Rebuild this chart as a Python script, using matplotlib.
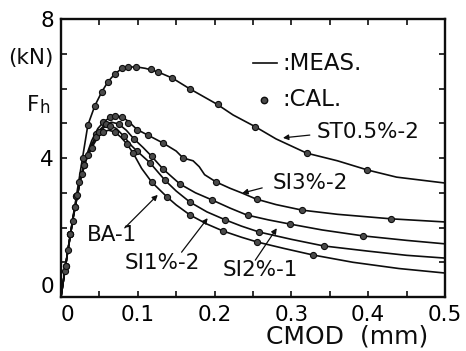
import matplotlib
matplotlib.use("Agg")
import matplotlib.pyplot as plt
from matplotlib.ticker import MultipleLocator

matplotlib.rcParams['font.family'] = 'DejaVu Sans'

# ---- measured curves (lines) ----
st_x = [0, 0.010, 0.020, 0.028, 0.035, 0.044, 0.053, 0.061, 0.070, 0.079, 0.088, 0.099,
        0.110, 0.126, 0.145, 0.167, 0.203, 0.224, 0.253, 0.28, 0.32, 0.36, 0.40, 0.437, 0.5]
st_y = [0, 1.5, 2.9, 4.0, 4.95, 5.5, 5.9, 6.19, 6.42, 6.57, 6.62, 6.62,
        6.58, 6.48, 6.30, 6.0, 5.55, 5.24, 4.9, 4.55, 4.14, 3.92, 3.65, 3.45, 3.28]

si3_x = [0, 0.008, 0.016, 0.025, 0.032, 0.040, 0.048, 0.056, 0.064, 0.071, 0.080, 0.088,
         0.099, 0.113, 0.133, 0.150, 0.159, 0.172, 0.180, 0.187, 0.202, 0.220, 0.236, 0.254,
         0.28, 0.314, 0.36, 0.43, 0.5]
si3_y = [0, 1.2, 2.35, 3.4, 4.0, 4.5, 4.85, 5.05, 5.17, 5.21, 5.18, 5.05,
         4.82, 4.66, 4.43, 4.2, 4.0, 3.92, 3.75, 3.52, 3.31, 3.13, 2.99, 2.82,
         2.66, 2.50, 2.38, 2.25, 2.16]

si2_x = [0, 0.008, 0.016, 0.025, 0.032, 0.040, 0.050, 0.058, 0.066, 0.075, 0.085, 0.095,
         0.107, 0.118, 0.133, 0.155, 0.175, 0.197, 0.22, 0.242, 0.27, 0.298, 0.34, 0.393,
         0.45, 0.5]
si2_y = [0, 1.2, 2.3, 3.35, 3.95, 4.4, 4.8, 4.98, 5.03, 4.98, 4.8, 4.55,
         4.3, 4.05, 3.68, 3.25, 3.0, 2.79, 2.56, 2.36, 2.22, 2.10, 1.93, 1.76,
         1.63, 1.53]

si1_x = [0, 0.008, 0.016, 0.025, 0.032, 0.040, 0.048, 0.056, 0.064, 0.072, 0.082, 0.092,
         0.099, 0.116, 0.135, 0.150, 0.168, 0.19, 0.214, 0.235, 0.258, 0.30, 0.342, 0.40,
         0.45, 0.5]
si1_y = [0, 1.2, 2.3, 3.35, 3.9, 4.35, 4.7, 4.88, 4.93, 4.85, 4.62, 4.35,
         4.2, 3.86, 3.37, 3.05, 2.73, 2.45, 2.22, 2.04, 1.87, 1.66, 1.47, 1.32,
         1.2, 1.12]

ba_x = [0, 0.008, 0.016, 0.025, 0.032, 0.040, 0.048, 0.055, 0.062, 0.070, 0.078, 0.086,
        0.094, 0.105, 0.118, 0.138, 0.150, 0.168, 0.19, 0.211, 0.235, 0.256, 0.29, 0.328,
        0.38, 0.44, 0.5]
ba_y = [0, 1.2, 2.3, 3.35, 3.9, 4.3, 4.6, 4.75, 4.8, 4.75, 4.6, 4.4,
        4.14, 3.7, 3.31, 2.88, 2.65, 2.36, 2.1, 1.90, 1.72, 1.58, 1.40, 1.21,
        1.0, 0.82, 0.69]

# ---- calculated points (dots) ----
st_cx = [0.006, 0.012, 0.020, 0.028, 0.035, 0.044, 0.053, 0.061, 0.070, 0.079, 0.087, 0.098,
         0.117, 0.126, 0.145, 0.168, 0.204, 0.253, 0.320, 0.398]
st_cy = [0.9, 1.8, 2.9, 4.0, 4.95, 5.5, 5.9, 6.19, 6.42, 6.59, 6.62, 6.62,
         6.56, 6.48, 6.3, 6.0, 5.55, 4.9, 4.14, 3.65]

si3_cx = [0.012, 0.020, 0.030, 0.045, 0.055, 0.064, 0.070, 0.079, 0.087, 0.099, 0.113,
          0.133, 0.159, 0.202, 0.255, 0.314, 0.430]
si3_cy = [1.8, 2.9, 3.8, 4.7, 5.04, 5.18, 5.21, 5.18, 5.02, 4.8, 4.66,
          4.43, 4.0, 3.31, 2.82, 2.5, 2.25]

si2_cx = [0.009, 0.018, 0.030, 0.045, 0.058, 0.075, 0.095, 0.118, 0.133, 0.155, 0.197,
          0.243, 0.298, 0.393]
si2_cy = [1.35, 2.6, 3.8, 4.6, 4.98, 4.98, 4.55, 4.05, 3.68, 3.25, 2.79,
          2.36, 2.10, 1.76]

si1_cx = [0.005, 0.015, 0.021, 0.027, 0.035, 0.050, 0.064, 0.082, 0.099, 0.116, 0.135,
          0.168, 0.214, 0.258, 0.342]
si1_cy = [0.75, 2.2, 2.95, 3.55, 4.1, 4.75, 4.93, 4.62, 4.2, 3.86, 3.37,
          2.73, 2.22, 1.87, 1.47]

ba_cx = [0.006, 0.012, 0.018, 0.024, 0.040, 0.055, 0.070, 0.086, 0.094, 0.118, 0.138,
         0.168, 0.211, 0.255, 0.328]
ba_cy = [0.9, 1.8, 2.6, 3.3, 4.3, 4.75, 4.75, 4.4, 4.14, 3.31, 2.88,
         2.36, 1.90, 1.58, 1.21]

curves = [(st_x, st_y, st_cx, st_cy),
          (si3_x, si3_y, si3_cx, si3_cy),
          (si2_x, si2_y, si2_cx, si2_cy),
          (si1_x, si1_y, si1_cx, si1_cy),
          (ba_x, ba_y, ba_cx, ba_cy)]

# label text, text position, arrow tail, arrow tip
labels = [("ST0.5%-2", (0.333, 4.75), (0.324, 4.66), (0.289, 4.58)),
          ("SI3%-2", (0.275, 3.28), (0.262, 3.14), (0.236, 2.99)),
          ("BA-1", (0.034, 1.78), (0.083, 1.99), (0.126, 2.94)),
          ("SI1%-2", (0.083, 0.98), (0.157, 1.29), (0.191, 2.27)),
          ("SI2%-1", (0.211, 0.78), (0.253, 1.06), (0.281, 1.98))]

ink = "#0d0d0d"
dotc = "#4a4a4a"


def main():
    fig = plt.figure(figsize=(4.66, 3.51), dpi=100)
    ax = fig.add_axes([0.1309, 0.1538, 0.8240, 0.7920])

    for lx, ly, cx, cy in curves:
        ax.plot(lx, ly, "-", color=ink, linewidth=1.2, zorder=2)
        ax.plot(cx, cy, "o", color=dotc, markeredgecolor=ink, markeredgewidth=0.8,
                markersize=4.4, zorder=3)

    """
    Set range and ticks
    """
    ax.set_xlim([0, 0.5])
    ax.set_ylim([0, 8])
    ax.xaxis.set_major_locator(MultipleLocator(0.1))
    ax.xaxis.set_minor_locator(MultipleLocator(0.05))
    ax.yaxis.set_major_locator(MultipleLocator(4))
    ax.yaxis.set_minor_locator(MultipleLocator(1))
    ax.tick_params(which="both", direction="in", top=True, right=True,
                   length=4.5, width=1.2, color=ink)
    ax.tick_params(axis="x", labelsize=15.5, pad=6)
    ax.tick_params(axis="y", labelsize=15.5, pad=5)
    ax.set_xticks([0, 0.1, 0.2, 0.3, 0.4, 0.5])
    ax.set_xticklabels(["0", "0.1", "0.2", "0.3", "0.4", "0.5"])
    ax.set_yticks([0, 4, 8])
    ax.set_yticklabels(["0", "4", "8"])
    ax.get_xticklabels()[0].set_ha("left")
    ax.get_yticklabels()[0].set_va("bottom")
    for sp in ax.spines.values():
        sp.set_linewidth(1.7)
        sp.set_color(ink)

    """
    Axis texts
    """
    fig.text(0.017, 0.835, "(kN)", fontsize=15.5, va="center", color=ink)
    fig.text(0.058, 0.700, "F", fontsize=15.5, va="center", color=ink)
    fig.text(0.085, 0.693, "h", fontsize=12, va="center", color=ink)
    fig.text(0.745, 0.040, "CMOD  (mm)", fontsize=18, ha="center", va="center", color=ink)

    """
    Legend
    """
    ax.plot([0.250, 0.281], [6.73, 6.73], "-", color=ink, linewidth=1.2)
    ax.text(0.288, 6.73, ":MEAS.", fontsize=16.5, va="center", color=ink)
    ax.plot([0.264], [5.67], "o", color=dotc, markeredgecolor=ink, markersize=4.6)
    ax.text(0.288, 5.67, ":CAL.", fontsize=16.5, va="center", color=ink)

    """
    Curve labels
    """
    for name, tpos, tail, tip in labels:
        ax.text(tpos[0], tpos[1], name, fontsize=15.5, va="center", color=ink)
        ax.annotate("", xy=tip, xytext=tail,
                    arrowprops=dict(arrowstyle="-|>", color=ink, lw=0.9,
                                    mutation_scale=8, shrinkA=0, shrinkB=0))

    fig.savefig("out.png", dpi=100)
    plt.close(fig)


if __name__ == '__main__':
    main()
